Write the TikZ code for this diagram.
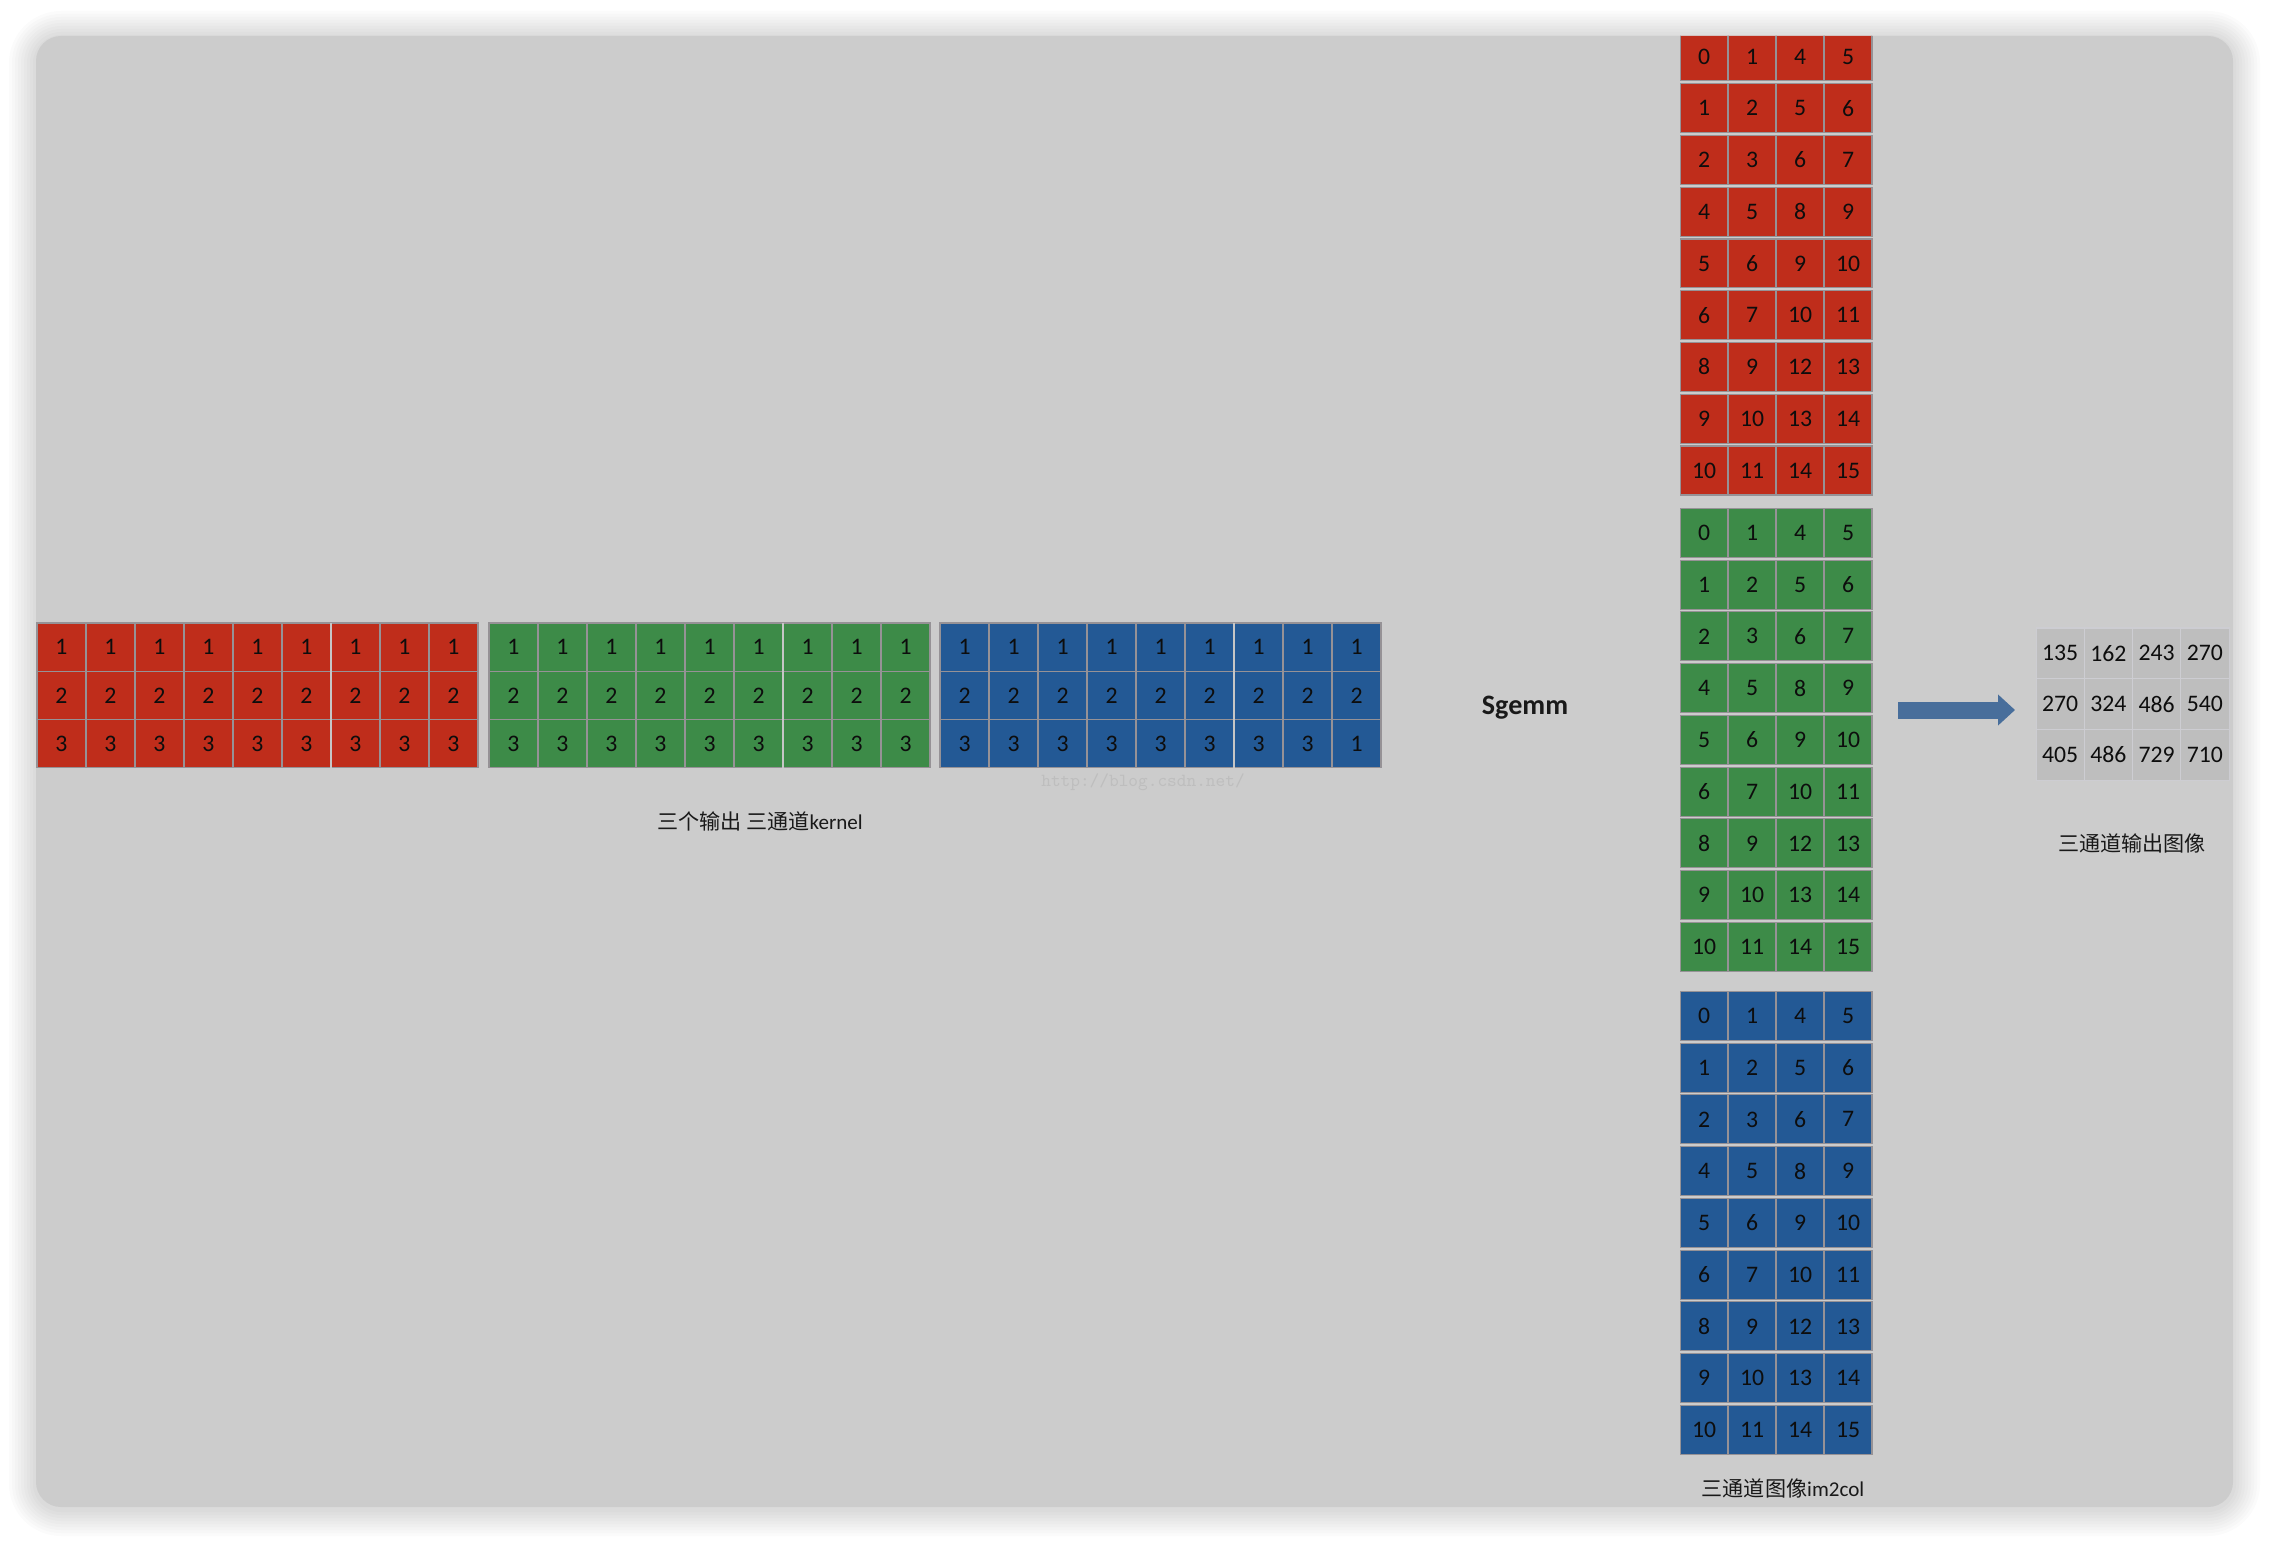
\documentclass[tikz,border=0pt]{standalone}
\usepackage{fontspec}
\setmainfont{Carlito}
\newfontfamily\cjk{Noto Sans CJK SC}
\usepackage{tikz}
\usetikzlibrary{arrows.meta}
\definecolor{panelGray}{RGB}{204,204,204}
\definecolor{redCell}{RGB}{191,45,27}
\definecolor{greenCell}{RGB}{61,139,72}
\definecolor{blueCell}{RGB}{35,89,149}
\definecolor{outGray}{RGB}{190,190,190}
\definecolor{lineGray}{RGB}{150,146,150}
\definecolor{outLine}{RGB}{205,205,210}
\definecolor{arrowBlue}{RGB}{72,110,155}
\definecolor{markGray}{RGB}{190,190,190}

\tikzset{
  kcell/.style={draw=lineGray, line width=0.6pt, inner sep=0pt, outer sep=0pt,
    minimum width=0.98cm, minimum height=0.966cm,
    font=\fontsize{13.5}{15}\selectfont, text=black!95},
  ccell/.style={kcell, minimum width=0.96cm, minimum height=0.98cm},
  ocell/.style={kcell, draw=outLine, fill=outGray, minimum width=0.965cm, minimum height=1.014cm},
  groupLine/.style={draw=gray!45, line width=1pt},
  lbl/.style={font=\fontsize{12}{14}\selectfont, text=black!90},
}

\begin{document}
\begin{tikzpicture}[x=0.02cm, y=-0.02cm]
  \useasboundingbox (0,0) rectangle (2270,1544);
  \fill[white] (0,0) rectangle (2270,1544);

  % sombra y panel
  \foreach \s in {3,6,...,27}
    \fill[black, opacity=0.016, rounded corners={(25+\s)*0.02cm}]
      (36-\s,36-\s+2) rectangle (2233+\s,1507+\s+2);
  \fill[panelGray, rounded corners=0.5cm] (36,36) rectangle (2233,1507);

  \begin{scope}
  \clip[rounded corners=0.5cm] (36,36) rectangle (2233,1507);

  % kernels: tres salidas, tres canales
  \foreach \blk/\clr/\bx in {r/redCell/37, g/greenCell/489, b/blueCell/940} {
    \foreach \r in {1,2,3} {
      \foreach \k in {1,...,9} {
        \pgfmathtruncatemacro\val{(\bx==940 && \r==3 && \k==9) ? 1 : \r}
        \node[kcell, fill=\clr] (k\blk-\r-\k) at ({\bx+(\k-0.5)*49}, {623+(\r-0.5)*48.3}) {\val};
      }
    }
    \draw[groupLine] (k\blk-1-6.north east) -- (k\blk-3-6.south east);
  }
  \node[font=\ttfamily\fontsize{10.5}{12}\selectfont, text=markGray] (wmark) at (1143,782) {http://blog.csdn.net/};
  \node[lbl] (kerLbl) at (760,821) {{\cjk 三个输出 三通道}kernel};

  % im2col de la imagen
  \foreach \blk/\clr/\by in {r/redCell/30.6, g/greenCell/507, b/blueCell/990} {
    \foreach \pa/\pb/\pc/\pd [count=\r] in {0/1/4/5, 1/2/5/6, 2/3/6/7, 4/5/8/9, 5/6/9/10,
        6/7/10/11, 8/9/12/13, 9/10/13/14, 10/11/14/15} {
      \foreach \val [count=\k] in {\pa,\pb,\pc,\pd}
        \node[ccell, fill=\clr] (c\blk-\r-\k) at ({1680+(\k-0.5)*48}, {\by+(\r-0.5)*51.75}) {\val};
    }
  }
  \node[lbl] (colLbl) at (1783,1488) {{\cjk 三通道图像}im2col};

  \node[font=\bfseries\fontsize{16}{18}\selectfont, text=black!90] (sgemm) at (1525,708) {Sgemm};

  % salida
  \foreach \pa/\pb/\pc/\pd [count=\r] in {135/162/243/270, 270/324/486/540, 405/486/729/710} {
    \foreach \val [count=\k] in {\pa,\pb,\pc,\pd}
      \node[ocell] (o-\r-\k) at ({2036+(\k-0.5)*48.25}, {628+(\r-0.5)*50.7}) {\val};
  }
  \node[lbl] (outLbl) at (2132,843) {\cjk 三通道输出图像};

  \coordinate (arrS) at (1898,710);
  \coordinate (arrE) at (2015,710);
  \draw[arrowBlue, line width=0.34cm, -{Triangle[length=0.34cm, width=0.6cm]}] (arrS) -- (arrE);
  \end{scope}
\end{tikzpicture}
\end{document}
